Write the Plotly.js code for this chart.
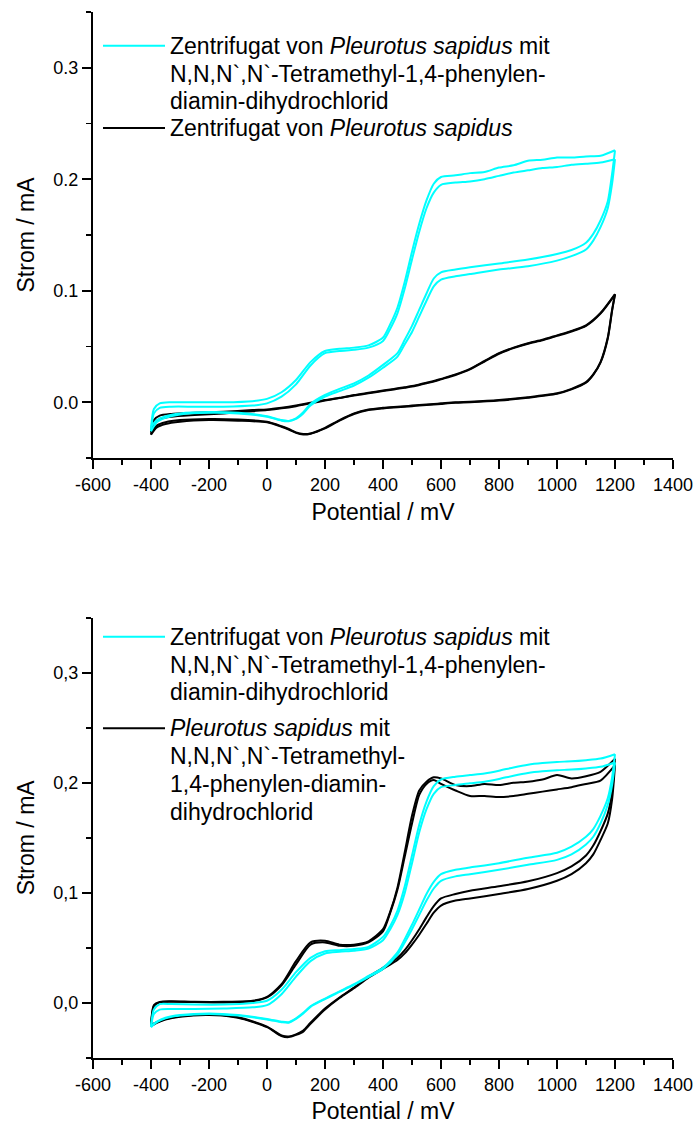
<!DOCTYPE html>
<html>
<head>
<meta charset="utf-8">
<script src="https://cdn.plot.ly/plotly-3.0.1.min.js"></script>
<style>html,body{margin:0;padding:0;background:#fff}</style>
</head>
<body>
<div id="chart" style="width:695px;height:1124px"></div>
<script>
// Potential grid (mV) for the anodic sweep and the cathodic return sweep
const potFwd = [-400,-390,-370,-330,-250,-150,-50,0,50,100,150,200,250,300,350,400,425,450,475,500,525,550,575,600,650,700,750,800,850,900,950,1000,1050,1100,1150,1200];
const potRev = [1200,1190,1175,1150,1125,1100,1050,1000,900,800,700,650,600,575,550,525,500,475,450,400,350,300,250,200,150,125,100,75,50,0,-100,-200,-300,-350,-380,-400];

// Upper panel: centrifugate with TMPD (cyan), two cycles
const topTmpdFwd1 = [-0.024,-0.006,-0.001,0.000,0.000,0.000,0.001,0.003,0.009,0.020,0.036,0.046,0.048,0.049,0.051,0.058,0.070,0.085,0.108,0.135,0.160,0.181,0.196,0.202,0.2035,0.2055,0.2065,0.2105,0.2125,0.2165,0.2175,0.2195,0.2195,0.2205,0.221,0.226];
const topTmpdRev1 = [0.226,0.205,0.180,0.163,0.151,0.143,0.1365,0.133,0.128,0.1245,0.121,0.119,0.1165,0.111,0.0975,0.083,0.0685,0.056,0.044,0.0335,0.024,0.017,0.012,0.0065,-0.0015,-0.009,-0.0145,-0.0167,-0.016,-0.0125,-0.0095,-0.0088,-0.010,-0.0125,-0.016,-0.022];
const topTmpdFwd2 = [-0.026,-0.010,-0.005,-0.004,-0.004,-0.004,-0.003,-0.001,0.005,0.016,0.033,0.044,0.046,0.047,0.049,0.055,0.066,0.080,0.102,0.128,0.153,0.174,0.188,0.195,0.197,0.198,0.200,0.203,0.206,0.208,0.210,0.211,0.213,0.214,0.215,0.218];
const topTmpdRev2 = [0.218,0.196,0.174,0.157,0.145,0.137,0.131,0.127,0.122,0.119,0.115,0.113,0.110,0.104,0.091,0.077,0.063,0.052,0.041,0.031,0.022,0.015,0.010,0.005,-0.003,-0.010,-0.015,-0.017,-0.0165,-0.013,-0.010,-0.0095,-0.011,-0.014,-0.018,-0.026];

// Upper panel: centrifugate alone (black), two cycles
const topPlainFwd1 = [-0.027,-0.016,-0.012,-0.0105,-0.0095,-0.0085,-0.007,-0.0065,-0.005,-0.003,-0.0005,0.002,0.004,0.0065,0.0085,0.0105,0.0115,0.0125,0.0135,0.0145,0.016,0.0175,0.019,0.021,0.025,0.030,0.037,0.044,0.049,0.053,0.056,0.060,0.064,0.069,0.080,0.097];
const topPlainRev1 = [0.097,0.083,0.058,0.036,0.025,0.018,0.012,0.008,0.0045,0.002,0.0005,0.000,-0.001,-0.0015,-0.002,-0.0025,-0.003,-0.0035,-0.004,-0.005,-0.0065,-0.010,-0.016,-0.023,-0.028,-0.0285,-0.027,-0.024,-0.0215,-0.0175,-0.0155,-0.015,-0.016,-0.018,-0.021,-0.027];
const topPlainFwd2 = [-0.029,-0.019,-0.015,-0.013,-0.0115,-0.010,-0.008,-0.007,-0.0055,-0.0035,-0.001,0.0015,0.0037,0.006,0.008,0.010,0.011,0.012,0.013,0.014,0.0155,0.017,0.0185,0.0205,0.0245,0.0295,0.0365,0.0435,0.0485,0.0525,0.0555,0.0595,0.0635,0.0685,0.0795,0.0965];
const topPlainRev2 = [0.0965,0.082,0.057,0.0355,0.0245,0.0175,0.0115,0.0075,0.004,0.0015,0.0,-0.0005,-0.0015,-0.002,-0.0025,-0.003,-0.0035,-0.004,-0.0045,-0.0055,-0.007,-0.0105,-0.0165,-0.0235,-0.0283,-0.029,-0.0275,-0.0245,-0.022,-0.018,-0.0165,-0.016,-0.0175,-0.0195,-0.0225,-0.029];

// Lower panel: centrifugate with TMPD (cyan), two cycles
const botTmpdFwd1 = [-0.021,-0.006,-0.001,-0.001,-0.0015,-0.0015,0.000,0.002,0.012,0.028,0.041,0.047,0.048,0.049,0.051,0.060,0.070,0.084,0.106,0.134,0.162,0.183,0.197,0.203,0.2055,0.207,0.2085,0.211,0.214,0.2165,0.218,0.219,0.2195,0.2205,0.222,0.226];
const botTmpdRev1 = [0.226,0.205,0.186,0.170,0.158,0.151,0.142,0.1365,0.132,0.127,0.123,0.121,0.117,0.110,0.099,0.085,0.071,0.058,0.046,0.032,0.0245,0.017,0.0105,0.004,-0.003,-0.009,-0.014,-0.0175,-0.017,-0.0145,-0.011,-0.0095,-0.011,-0.0135,-0.017,-0.021];
const botTmpdFwd2 = [-0.022,-0.010,-0.006,-0.0055,-0.0055,-0.005,-0.004,-0.002,0.008,0.024,0.038,0.045,0.0465,0.0475,0.0495,0.057,0.067,0.080,0.100,0.127,0.155,0.176,0.190,0.196,0.198,0.1995,0.201,0.2035,0.2065,0.209,0.2105,0.2115,0.212,0.213,0.2145,0.2185];
const botTmpdRev2 = [0.2185,0.198,0.180,0.163,0.151,0.144,0.135,0.130,0.1255,0.121,0.117,0.115,0.111,0.104,0.093,0.080,0.067,0.055,0.044,0.031,0.0235,0.0165,0.010,0.0035,-0.0035,-0.0095,-0.0145,-0.018,-0.0175,-0.015,-0.0115,-0.010,-0.0115,-0.014,-0.0175,-0.022];

// Lower panel: Pleurotus sapidus with TMPD (black), two cycles
const botFungusFwd1 = [-0.021,-0.003,0.0005,0.001,0.0008,0.0005,0.0015,0.005,0.016,0.035,0.053,0.055,0.052,0.052,0.055,0.065,0.082,0.103,0.133,0.163,0.189,0.199,0.2025,0.199,0.193,0.188,0.188,0.187,0.188,0.190,0.192,0.194,0.196,0.199,0.202,0.216];
const botFungusRev1 = [0.216,0.185,0.163,0.148,0.135,0.127,0.117,0.111,0.1035,0.099,0.095,0.093,0.0885,0.082,0.072,0.062,0.053,0.045,0.039,0.031,0.023,0.0135,0.0045,-0.006,-0.019,-0.026,-0.029,-0.031,-0.030,-0.022,-0.0135,-0.011,-0.0125,-0.015,-0.018,-0.021];
const botFungusFwd2 = [-0.020,-0.002,0.001,0.0015,0.001,0.001,0.002,0.0055,0.017,0.038,0.055,0.0565,0.053,0.053,0.056,0.067,0.083,0.105,0.137,0.170,0.193,0.201,0.205,0.204,0.198,0.197,0.199,0.198,0.200,0.201,0.203,0.207,0.204,0.206,0.210,0.222];
const botFungusRev2 = [0.222,0.192,0.172,0.156,0.143,0.134,0.124,0.118,0.1105,0.106,0.102,0.099,0.095,0.088,0.078,0.067,0.057,0.048,0.041,0.032,0.024,0.014,0.005,-0.005,-0.018,-0.025,-0.0285,-0.0305,-0.0295,-0.0215,-0.013,-0.0105,-0.012,-0.0145,-0.0175,-0.020];

// Axis ticks
const xTickVals = [-600,-400,-200,0,200,400,600,800,1000,1200,1400];
const xTickText = ["-600","-400","-200","0","200","400","600","800","1000","1200","1400"];
const yTickVals = [0.0, 0.1, 0.2, 0.3];
const yTickTextTop = ["0.0", "0.1", "0.2", "0.3"];
const yTickTextBottom = ["0,0", "0,1", "0,2", "0,3"];

// Legend entries (one string per printed line)
const legendTopTmpd = ["Zentrifugat von <i>Pleurotus sapidus</i> mit", "N,N,N`,N`-Tetramethyl-1,4-phenylen-", "diamin-dihydrochlorid"];
const legendTopPlain = ["Zentrifugat von <i>Pleurotus sapidus</i>"];
const legendBotTmpd = ["Zentrifugat von <i>Pleurotus sapidus</i> mit", "N,N,N`,N`-Tetramethyl-1,4-phenylen-", "diamin-dihydrochlorid"];
const legendBotFungus = ["<i>Pleurotus sapidus</i> mit", "N,N,N`,N`-Tetramethyl-", "1,4-phenylen-diamin-", "dihydrochlorid"];

const CYAN = "#00FFFF";
const BLACK = "#000000";
const FONT = "Liberation Sans, Arial, sans-serif";

const W = 695, H = 1124;
const M = {l: 93, r: 22, t: 12, b: 66};
const plotW = W - M.l - M.r, plotH = H - M.t - M.b;
const px2x = px => (px - M.l) / plotW;
const py2y = py => (H - M.b - py) / plotH;

// One sweep = one smoothed line; the turning points at -400 and 1200 mV stay sharp
function sweep(pot, cur, color, name, xa, ya) {
  return {
    x: pot, y: cur, xaxis: xa, yaxis: ya, mode: "lines", name: name, showlegend: false,
    line: {color: color, width: 2, shape: "spline", smoothing: 0.7}
  };
}
function cycle(fwd, rev, color, name, xa, ya) {
  return [sweep(potFwd, fwd, color, name, xa, ya), sweep(potRev, rev, color, name, xa, ya)];
}

const traces = [].concat(
  cycle(topPlainFwd1, topPlainRev1, BLACK, "Zentrifugat", "x", "y"),
  cycle(topPlainFwd2, topPlainRev2, BLACK, "Zentrifugat", "x", "y"),
  cycle(topTmpdFwd1, topTmpdRev1, CYAN, "Zentrifugat + TMPD", "x", "y"),
  cycle(topTmpdFwd2, topTmpdRev2, CYAN, "Zentrifugat + TMPD", "x", "y"),
  cycle(botFungusFwd1, botFungusRev1, BLACK, "Pleurotus sapidus + TMPD", "x2", "y2"),
  cycle(botFungusFwd2, botFungusRev2, BLACK, "Pleurotus sapidus + TMPD", "x2", "y2"),
  cycle(botTmpdFwd1, botTmpdRev1, CYAN, "Zentrifugat + TMPD", "x2", "y2"),
  cycle(botTmpdFwd2, botTmpdRev2, CYAN, "Zentrifugat + TMPD", "x2", "y2")
);

function xAxis(anchor) {
  return {
    anchor: anchor, domain: [0, 1], range: [-600, 1400],
    tickmode: "array", tickvals: xTickVals, ticktext: xTickText,
    showline: true, linecolor: BLACK, linewidth: 2, mirror: false,
    ticks: "outside", ticklen: 9, tickwidth: 1.8, tickcolor: BLACK,
    minor: {ticks: "outside", tick0: -600, dtick: 100, ticklen: 5, tickwidth: 1.8, tickcolor: BLACK},
    showgrid: false, zeroline: false,
    tickfont: {family: FONT, size: 18, color: BLACK},
    title: {text: "Potential / mV", font: {family: FONT, size: 23, color: BLACK}, standoff: 10}
  };
}
function yAxis(anchor, domain, text) {
  return {
    anchor: anchor, domain: domain, range: [-0.05, 0.35],
    tickmode: "array", tickvals: yTickVals, ticktext: text,
    showline: true, linecolor: BLACK, linewidth: 2, mirror: false,
    ticks: "outside", ticklen: 9, tickwidth: 1.8, tickcolor: BLACK,
    minor: {ticks: "outside", tick0: 0, dtick: 0.05, ticklen: 5, tickwidth: 1.8, tickcolor: BLACK},
    showgrid: false, zeroline: false,
    tickfont: {family: FONT, size: 18, color: BLACK},
    title: {text: "Strom / mA", font: {family: FONT, size: 23, color: BLACK}, standoff: 12}
  };
}

// Hand-built legend: sample line plus one text row per printed line
const annotations = [];
const shapes = [];
const LINE_STEP = 27.8;
function legendBlock(lines, color, firstRowPx) {
  shapes.push({
    type: "line", xref: "paper", yref: "paper",
    x0: px2x(103), x1: px2x(165), y0: py2y(firstRowPx), y1: py2y(firstRowPx),
    line: {color: color, width: 2}
  });
  lines.forEach((t, i) => {
    annotations.push({
      xref: "paper", yref: "paper", x: px2x(168), y: py2y(firstRowPx + i * LINE_STEP),
      xanchor: "left", yanchor: "middle", showarrow: false, text: t,
      font: {family: FONT, size: 23, color: BLACK}
    });
  });
}
legendBlock(legendTopTmpd, CYAN, 45.7);
legendBlock(legendTopPlain, BLACK, 128);
legendBlock(legendBotTmpd, CYAN, 636.7);
legendBlock(legendBotFungus, BLACK, 728.3);

const layout = {
  width: W, height: H, margin: M,
  paper_bgcolor: "#ffffff", plot_bgcolor: "#ffffff",
  font: {family: FONT, color: BLACK},
  showlegend: false,
  xaxis: xAxis("y"),
  yaxis: yAxis("x", [py2y(458), 1], yTickTextTop),
  xaxis2: xAxis("y2"),
  yaxis2: yAxis("x2", [0, py2y(617.7)], yTickTextBottom),
  annotations: annotations,
  shapes: shapes
};

Plotly.newPlot("chart", traces, layout, {staticPlot: true, displayModeBar: false});
</script>
</body>
</html>
